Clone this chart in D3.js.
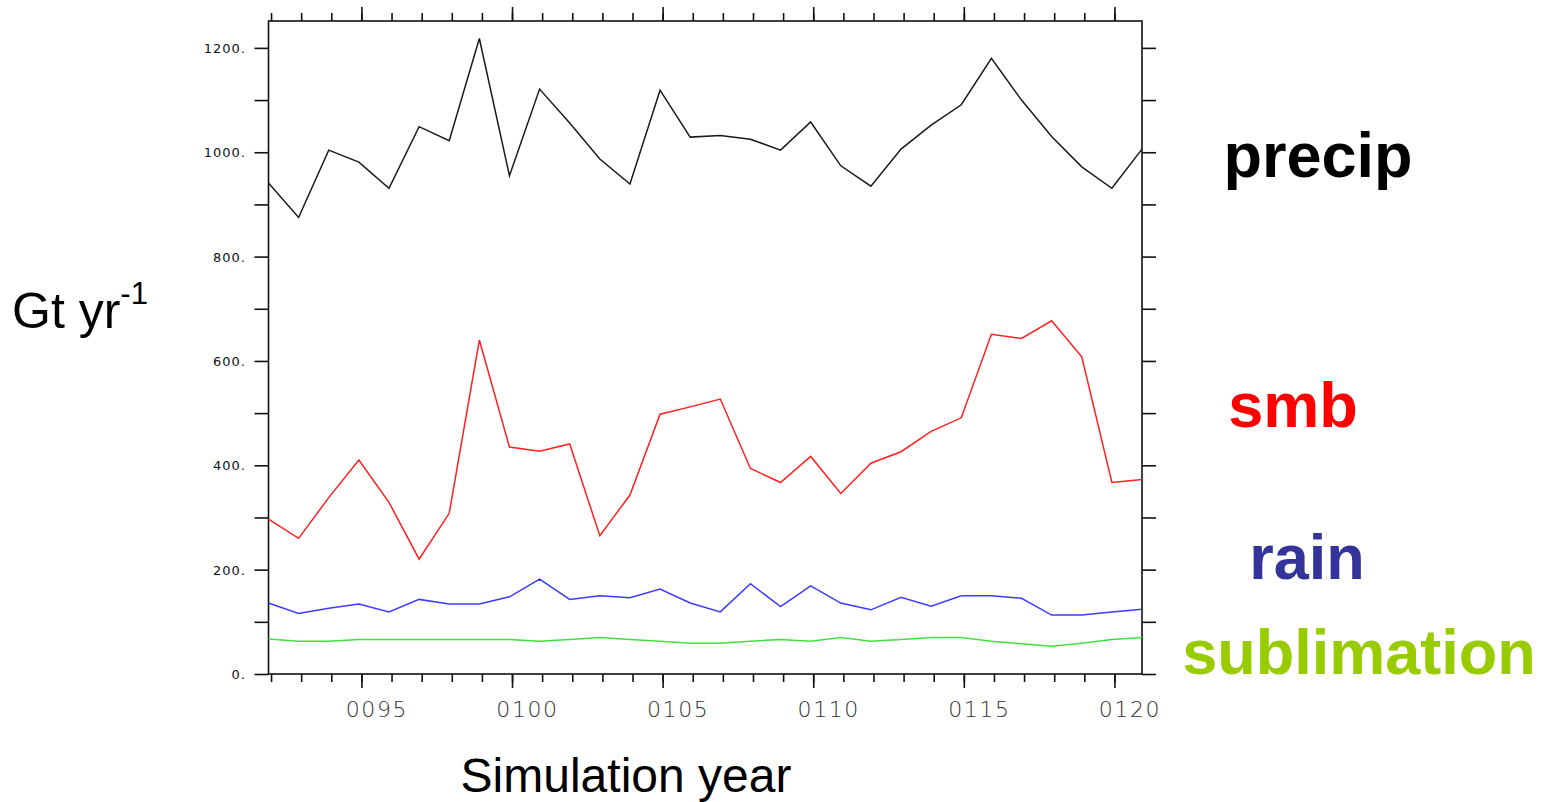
<!DOCTYPE html>
<html>
<head>
<meta charset="utf-8">
<script src="https://cdn.jsdelivr.net/npm/d3@7"></script>
<style>
  body { margin: 0; background: #fff; }
  svg { display: block; }
</style>
</head>
<body>
<svg id="chart" width="1552" height="802"></svg>
<script>
const width = 1552;
const height = 802;

// simulation years, one value per year
const years = [92, 93, 94, 95, 96, 97, 98, 99, 100, 101, 102, 103, 104, 105, 106,
    107, 108, 109, 110, 111, 112, 113, 114, 115, 116, 117, 118, 119, 120, 121];

// Gt yr-1
const precip = [941, 875, 1004, 981, 931, 1049, 1022, 1218, 955, 1121, 1056, 987, 939, 1119, 1029,
    1032, 1025, 1004, 1058, 974, 935, 1006, 1052, 1091, 1180, 1100, 1030, 972, 931, 1006];
const smb = [297, 260, 338, 410, 329, 220, 308, 640, 435, 427, 441, 265, 343, 498, 512,
    527, 394, 367, 417, 346, 404, 426, 465, 491, 651, 643, 677, 608, 367, 373];
const rain = [136, 116, 126, 134, 119, 143, 134, 134, 148, 182, 143, 150, 146, 163, 136,
    119, 173, 129, 169, 136, 123, 147, 130, 150, 150, 145, 113, 113, 119, 124];
const sublimation = [67, 63, 63, 66, 66, 66, 66, 66, 66, 63, 66, 70, 66, 63, 59,
    59, 63, 66, 63, 70, 63, 66, 70, 70, 63, 58, 53, 59, 66, 70];

const yTickValues = [0, 100, 200, 300, 400, 500, 600, 700, 800, 900, 1000, 1100, 1200];
const yLabelValues = [0, 200, 400, 600, 800, 1000, 1200];
const xLabelYears = [95, 100, 105, 110, 115, 120];

const seriesList = [
    { name: "precip", values: precip, line: "#1a1a1a", label: "#000000", lx: 1318, ly: 177 },
    { name: "smb", values: smb, line: "#ff2020", label: "#ff0000", lx: 1293, ly: 427 },
    { name: "rain", values: rain, line: "#3c3cff", label: "#333399", lx: 1307, ly: 579 },
    { name: "sublimation", values: sublimation, line: "#3fe23f", label: "#99cc00", lx: 1359, ly: 674 }
];

const plot = { left: 268.5, right: 1142, top: 21, bottom: 674 };
const tickOffset = 0.085;   // year ticks sit slightly right of the data points
const labelOffset = 0.6;

const svg = d3.select("#chart");

const x = d3.scaleLinear()
    .domain([years[0], years[years.length - 1]])
    .range([plot.left, plot.right]);

const y = d3.scaleLinear()
    .domain([0, 1250])
    .range([plot.bottom, plot.top + 0.8]);

const allYears = d3.range(years[0], years[years.length - 1] + 1);
const minorTicks = allYears.map(v => v + tickOffset).filter(v => x(v) < plot.right - 1);
const majorTicks = xLabelYears.map(v => v + tickOffset);

// y ticks, left and right, outward
const leftAxis = d3.axisLeft(y).tickValues(yTickValues).tickSize(14).tickFormat("");
const rightAxis = d3.axisRight(y).tickValues(yTickValues).tickSize(14).tickFormat("");
svg.append("g").attr("class", "axis").attr("transform", `translate(${plot.left},0)`).call(leftAxis);
svg.append("g").attr("class", "axis").attr("transform", `translate(${plot.right},0)`).call(rightAxis);

// x ticks, top and bottom
const bottomMinor = d3.axisBottom(x).tickValues(minorTicks).tickSize(8).tickFormat("");
const bottomMajor = d3.axisBottom(x).tickValues(majorTicks).tickSize(14).tickFormat("");
const topMinor = d3.axisTop(x).tickValues(minorTicks).tickSize(8).tickFormat("");
const topMajor = d3.axisTop(x).tickValues(majorTicks).tickSize(14).tickFormat("");
[bottomMinor, bottomMajor].forEach(a => {
    svg.append("g").attr("class", "axis").attr("transform", `translate(0,${plot.bottom})`).call(a);
});
[topMinor, topMajor].forEach(a => {
    svg.append("g").attr("class", "axis").attr("transform", `translate(0,${plot.top})`).call(a);
});

svg.selectAll(".axis .domain").remove();
svg.selectAll(".axis line")
    .attr("stroke", "#111")
    .attr("stroke-width", 1.6);

// frame
svg.append("rect")
    .attr("x", plot.left)
    .attr("y", plot.top)
    .attr("width", plot.right - plot.left)
    .attr("height", plot.bottom - plot.top)
    .attr("fill", "none")
    .attr("stroke", "#111")
    .attr("stroke-width", 1.6);

// y labels
svg.append("g")
    .selectAll("text")
    .data(yLabelValues)
    .enter()
    .append("text")
    .attr("x", 246)
    .attr("y", d => y(d) + 5)
    .attr("text-anchor", "end")
    .attr("font-family", "DejaVu Sans")
    .attr("font-size", 13)
    .attr("letter-spacing", 1)
    .attr("fill", "#111")
    .text(d => d + ".");

// x labels
svg.append("g")
    .selectAll("text")
    .data(xLabelYears)
    .enter()
    .append("text")
    .attr("x", d => x(d + labelOffset))
    .attr("y", 717)
    .attr("text-anchor", "middle")
    .attr("font-family", "DejaVu Sans")
    .attr("font-weight", 200)
    .attr("font-size", 22)
    .attr("letter-spacing", 1.6)
    .attr("fill", "#333")
    .text(d => d3.format("04d")(d));

// series lines
const line = d3.line()
    .x((d, i) => x(years[i]))
    .y(d => y(d));

svg.append("g")
    .selectAll("path")
    .data(seriesList)
    .enter()
    .append("path")
    .attr("d", d => line(d.values))
    .attr("fill", "none")
    .attr("stroke", d => d.line)
    .attr("stroke-width", 1.5)
    .attr("stroke-linejoin", "miter");

// series names on the right
svg.append("g")
    .selectAll("text")
    .data(seriesList)
    .enter()
    .append("text")
    .attr("x", d => d.lx)
    .attr("y", d => d.ly)
    .attr("text-anchor", "middle")
    .attr("font-family", "Liberation Sans, Arial, sans-serif")
    .attr("font-weight", "bold")
    .attr("font-size", 63)
    .attr("fill", d => d.label)
    .text(d => d.name);

// axis titles
const yTitle = svg.append("text")
    .attr("x", 12)
    .attr("y", 328)
    .attr("font-family", "Liberation Sans, Arial, sans-serif")
    .attr("font-size", 50)
    .attr("fill", "#000");
yTitle.append("tspan").text("Gt yr");
yTitle.append("tspan")
    .attr("dy", -24)
    .attr("font-size", 31)
    .text("-1");

svg.append("text")
    .attr("x", 626)
    .attr("y", 792)
    .attr("text-anchor", "middle")
    .attr("font-family", "Liberation Sans, Arial, sans-serif")
    .attr("font-size", 48)
    .attr("fill", "#000")
    .text("Simulation year");
</script>
</body>
</html>
